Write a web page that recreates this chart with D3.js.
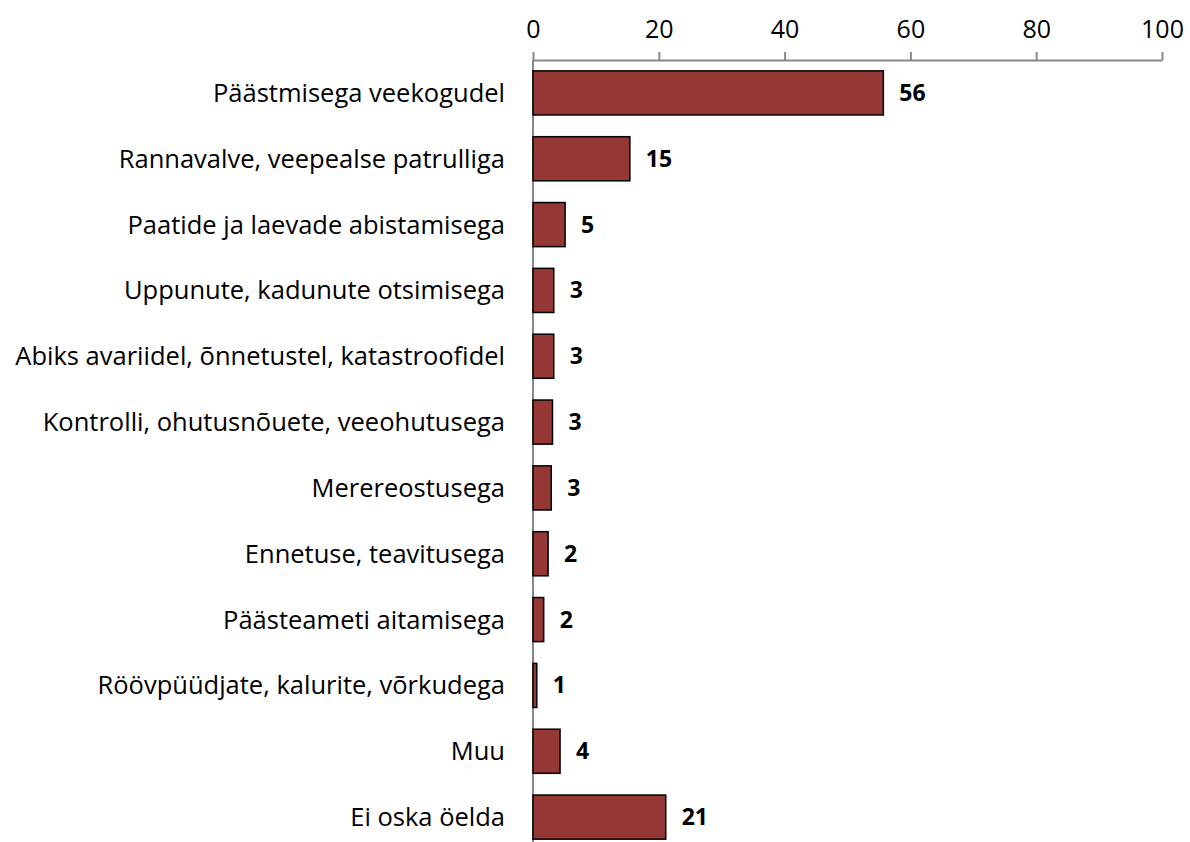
<!DOCTYPE html>
<html>
<head>
<meta charset="utf-8">
<script src="https://cdn.jsdelivr.net/npm/d3@7"></script>
<style>
	body { margin: 0; background: #fff; }
	text { font-family: "Open Sans", sans-serif; fill: #000; }
</style>
</head>
<body>
<svg class="chart" width="1190" height="842"></svg>
<script>
// categories, top to bottom
let categories = [
	'Päästmisega veekogudel',
	'Rannavalve, veepealse patrulliga',
	'Paatide ja laevade abistamisega',
	'Uppunute, kadunute otsimisega',
	'Abiks avariidel, õnnetustel, katastroofidel',
	'Kontrolli, ohutusnõuete, veeohutusega',
	'Merereostusega',
	'Ennetuse, teavitusega',
	'Päästeameti aitamisega',
	'Röövpüüdjate, kalurite, võrkudega',
	'Muu',
	'Ei oska öelda'
];
let values = [55.7, 15.4, 5.1, 3.3, 3.3, 3.1, 2.9, 2.4, 1.7, 0.6, 4.3, 21.1];
let labels = ['56', '15', '5', '3', '3', '3', '3', '2', '2', '1', '4', '21'];
let ticks = [0, 20, 40, 60, 80, 100];

let margin = { top: 60, left: 533, right: 28 };
let plotW = 1190 - margin.left - margin.right;
let plotH = 790;

let svg = d3.select('.chart');
let g = svg.append('g').attr('transform', 'translate(' + margin.left + ',' + margin.top + ')');

let x = d3.scaleLinear().domain([0, 100]).range([0, plotW]);
let y = d3.scaleBand().domain(categories).range([0, plotH]).paddingInner(0.33).paddingOuter(0.165);

// top axis
let xAxis = g.append('g')
	.attr('class', 'x-axis')
	.call(d3.axisTop(x).tickValues(ticks).tickSizeInner(8).tickSizeOuter(0).tickPadding(14));
xAxis.select('.domain').attr('stroke', '#888').attr('stroke-width', 2);
xAxis.selectAll('.tick line').attr('stroke', '#888').attr('stroke-width', 2);
xAxis.selectAll('.tick text').style('font-size', '25px').style('font-family', '"Open Sans", sans-serif').attr('fill', '#000');

// vertical category axis
g.append('line')
	.attr('x1', 0).attr('x2', 0)
	.attr('y1', 0).attr('y2', 842 - margin.top)
	.attr('stroke', '#888').attr('stroke-width', 2);

// bars
g.selectAll('.bar')
	.data(values)
	.enter()
	.append('rect')
	.attr('class', 'bar')
	.attr('x', 0)
	.attr('y', function(d, i) { return y(categories[i]); })
	.attr('width', function(d) { return x(d); })
	.attr('height', y.bandwidth())
	.attr('fill', '#953735')
	.attr('stroke', '#000')
	.attr('stroke-width', 1.5);

// value labels
g.selectAll('.val')
	.data(values)
	.enter()
	.append('text')
	.attr('class', 'val')
	.attr('x', function(d) { return x(d) + 16; })
	.attr('y', function(d, i) { return y(categories[i]) + y.bandwidth() / 2; })
	.attr('dy', '0.35em')
	.style('font-size', '23px')
	.style('font-weight', 'bold')
	.text(function(d, i) { return labels[i]; });

// category labels
g.selectAll('.cat')
	.data(categories)
	.enter()
	.append('text')
	.attr('class', 'cat')
	.attr('x', -28)
	.attr('y', function(d) { return y(d) + y.bandwidth() / 2; })
	.attr('dy', '0.35em')
	.attr('text-anchor', 'end')
	.style('font-size', '25.5px')
	.text(function(d) { return d; });
</script>
</body>
</html>
